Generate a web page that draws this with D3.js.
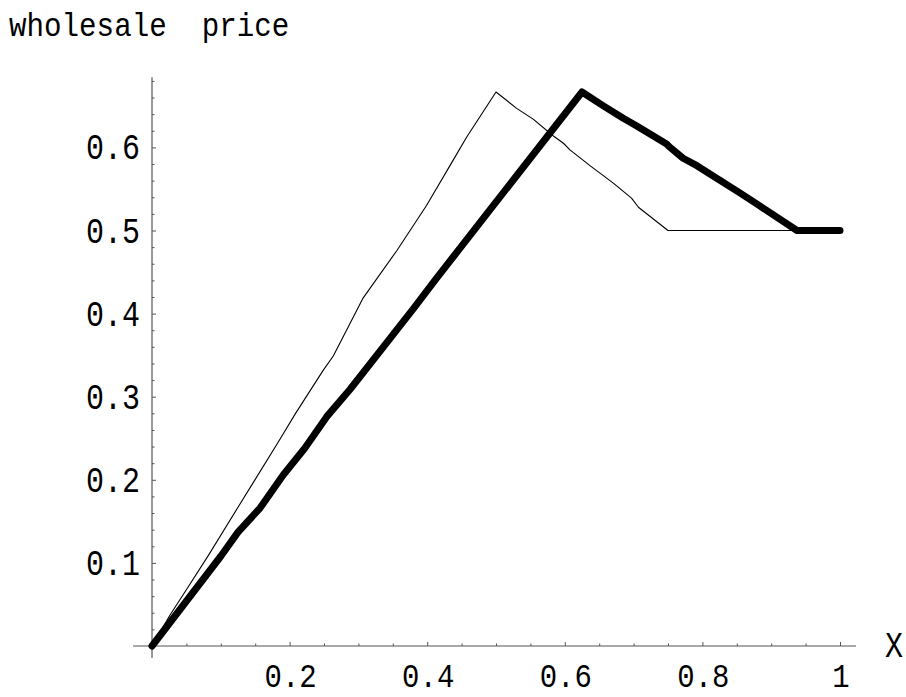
<!DOCTYPE html>
<html>
<head>
<meta charset="utf-8">
<script src="https://cdn.jsdelivr.net/npm/d3@7"></script>
<style>
  html, body { margin: 0; padding: 0; background: #fff; }
  svg text { font-family: "Liberation Mono", "DejaVu Sans Mono", monospace; fill: #000; }
</style>
</head>
<body>
<svg id="chart" width="906" height="697"></svg>
<script>
// ---- data ----
const thinX = [0, 0.026, 0.0455, 0.082, 0.125, 0.184, 0.208, 0.249, 0.2635, 0.307, 0.356, 0.399, 0.438, 0.457, 0.5,
               0.530, 0.554, 0.583, 0.598, 0.6075, 0.6366, 0.6705, 0.697, 0.707, 0.75, 1.0];
const thinY = [0, 0.037, 0.062, 0.109, 0.167, 0.246, 0.279, 0.332, 0.349, 0.419, 0.476, 0.530, 0.585, 0.612, 0.6667,
               0.647, 0.634, 0.614, 0.605, 0.597, 0.578, 0.557, 0.539, 0.528, 0.5, 0.5];
const thickX = [0, 0.1, 0.125, 0.157, 0.191, 0.222, 0.254, 0.288, 0.38, 0.414, 0.625,
                0.656, 0.685, 0.704, 0.748, 0.753, 0.772, 0.792, 0.855, 0.879, 0.9375, 1.0];
const thickY = [0, 0.108, 0.137, 0.166, 0.206, 0.238, 0.276, 0.309, 0.406, 0.443, 0.6667,
                0.650, 0.635, 0.626, 0.604, 0.600, 0.587, 0.578, 0.545, 0.532, 0.5, 0.5];
const xTickValues = [0.2, 0.4, 0.6, 0.8, 1.0];
const xTickLabels = ["0.2", "0.4", "0.6", "0.8", "1"];
const yTickValues = [0.1, 0.2, 0.3, 0.4, 0.5, 0.6];
const yTickLabels = ["0.1", "0.2", "0.3", "0.4", "0.5", "0.6"];
const xMinor = [0.05, 0.1, 0.15, 0.25, 0.3, 0.35, 0.45, 0.5, 0.55, 0.65, 0.7, 0.75, 0.85, 0.9, 0.95];
const yMinor = [0.02, 0.04, 0.06, 0.08, 0.12, 0.14, 0.16, 0.18, 0.22, 0.24, 0.26, 0.28, 0.32, 0.34, 0.36, 0.38,
                0.42, 0.44, 0.46, 0.48, 0.52, 0.54, 0.56, 0.58, 0.62, 0.64, 0.66, 0.68];
const yAxisTitle = "wholesale  price";
const xAxisTitle = "X";

// ---- layout ----
const svg = d3.select("#chart");
const x = d3.scaleLinear().domain([0, 1]).range([152, 840]);
const y = d3.scaleLinear().domain([0, 0.7]).range([646, 646 - 0.7 * 831]);
const axisColor = "#555";

// axis lines
svg.append("line").attr("x1", x(-0.0276)).attr("x2", x(1.0233)).attr("y1", y(0)).attr("y2", y(0))
  .attr("stroke", axisColor).attr("stroke-width", 1.2);
svg.append("line").attr("x1", x(0)).attr("x2", x(0)).attr("y1", y(-0.0145)).attr("y2", y(0.6845))
  .attr("stroke", axisColor).attr("stroke-width", 1.2);

// x ticks
const xAxisMajor = d3.axisBottom(x).tickValues(xTickValues).tickSize(-4).tickFormat("");
const xAxisMinor = d3.axisBottom(x).tickValues(xMinor).tickSize(-2.5).tickFormat("");
[xAxisMajor, xAxisMinor].forEach(ax => {
  const g = svg.append("g").attr("transform", `translate(0,${y(0)})`).call(ax);
  g.select(".domain").remove();
  g.selectAll("line").attr("stroke", axisColor);
});
// y ticks
const yAxisMajor = d3.axisLeft(y).tickValues(yTickValues).tickSize(-4).tickFormat("");
const yAxisMinor = d3.axisLeft(y).tickValues(yMinor).tickSize(-2.5).tickFormat("");
[yAxisMajor, yAxisMinor].forEach(ax => {
  const g = svg.append("g").attr("transform", `translate(${x(0)},0)`).call(ax);
  g.select(".domain").remove();
  g.selectAll("line").attr("stroke", axisColor);
});

// tick labels
const labelSize = 30, stretch = 1.2;
xTickValues.forEach((v, i) => {
  svg.append("text")
    .attr("transform", `translate(${x(v) + 1},${y(0) + 41}) scale(1,1.15)`)
    .attr("text-anchor", "middle")
    .attr("font-size", 29)
    .text(xTickLabels[i]);
});
yTickValues.forEach((v, i) => {
  svg.append("text")
    .attr("transform", `translate(140,${y(v) + 12}) scale(1,${stretch})`)
    .attr("text-anchor", "end")
    .attr("font-size", labelSize)
    .text(yTickLabels[i]);
});

// axis titles
svg.append("text")
  .attr("transform", `translate(9,36) scale(1,1.12)`)
  .attr("font-size", 29.2)
  .attr("xml:space", "preserve")
  .style("white-space", "pre")
  .text(yAxisTitle);
svg.append("text")
  .attr("transform", `translate(894,657) scale(1,${stretch})`)
  .attr("text-anchor", "middle")
  .attr("font-size", 30)
  .text(xAxisTitle);

// lines
const line = d3.line().x(d => x(d[0])).y(d => y(d[1]));
svg.append("path")
  .datum(thinX.map((v, i) => [v, thinY[i]]))
  .attr("d", line).attr("fill", "none").attr("stroke", "#000").attr("stroke-width", 1.1)
  .attr("stroke-linejoin", "round");
svg.append("path")
  .datum(thickX.map((v, i) => [v, thickY[i]]))
  .attr("d", line).attr("fill", "none").attr("stroke", "#000").attr("stroke-width", 7)
  .attr("stroke-linejoin", "round").attr("stroke-linecap", "round");
</script>
</body>
</html>
